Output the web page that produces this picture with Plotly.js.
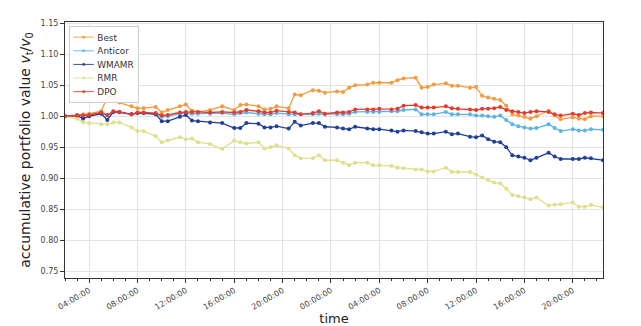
<!DOCTYPE html>
<html>
<head>
<meta charset="utf-8">
<script src="https://cdn.plot.ly/plotly-3.0.1.min.js"></script>
<style>
  html, body { margin: 0; padding: 0; background: #fff; }
  #chart { width: 641px; height: 326px; }
</style>
</head>
<body>
<div id="chart"></div>
<script>
// Data

// hours counted from 00:00 of the first day
const hours = [
  2, 3, 3.5, 4, 5, 5.5, 6, 6.5, 7.5, 8, 8.5, 9.5, 10, 10.5, 11.5, 12, 12.5, 13, 14, 15,
  16, 16.5, 17, 18, 18.5, 19, 19.5, 20.5, 21, 21.5, 22.5, 23, 23.5, 24.5, 25, 25.5, 26, 27, 27.5, 28,
  29, 29.5, 30, 31, 31.5, 32, 32.5, 33.5, 34, 34.5, 35.5, 36, 36.5, 37, 37.5, 38, 38.5, 39, 39.5, 40,
  40.5, 41, 42, 42.5, 43, 44, 44.5, 45, 45.5, 46.5,
];

const best = [
  1.000, 1.002, 1.003, 1.004, 1.008, 1.031, 1.033, 1.022, 1.016, 1.013, 1.013, 1.015, 1.006, 1.010, 1.016, 1.019, 1.009, 1.007, 1.010, 1.016,
  1.010, 1.018, 1.019, 1.016, 1.011, 1.012, 1.016, 1.013, 1.035, 1.034, 1.042, 1.041, 1.038, 1.040, 1.039, 1.046, 1.050, 1.051, 1.054, 1.054,
  1.054, 1.058, 1.061, 1.062, 1.046, 1.047, 1.051, 1.053, 1.049, 1.049, 1.046, 1.047, 1.033, 1.030, 1.028, 1.026, 1.017, 1.003, 1.001, 0.999,
  0.996, 1.000, 1.009, 1.001, 0.995, 0.998, 0.996, 0.995, 1.000, 1.000,
];

const anticor = [
  1.000, 1.001, 1.001, 1.002, 1.005, 1.001, 1.007, 1.006, 1.003, 1.005, 1.005, 1.004, 0.999, 1.000, 1.004, 1.005, 1.004, 1.004, 1.004, 1.005,
  1.003, 1.005, 1.006, 1.004, 1.003, 1.003, 1.005, 1.003, 1.003, 1.003, 1.003, 1.004, 1.003, 1.003, 1.003, 1.004, 1.007, 1.007, 1.007, 1.007,
  1.008, 1.008, 1.010, 1.011, 1.003, 1.003, 1.003, 1.007, 1.003, 1.003, 1.003, 1.001, 1.001, 1.000, 0.999, 1.001, 0.994, 0.987, 0.984, 0.982,
  0.980, 0.981, 0.987, 0.981, 0.976, 0.979, 0.977, 0.977, 0.979, 0.978,
];

const wmamr = [
  1.000, 1.001, 0.996, 1.000, 1.004, 0.994, 1.007, 1.007, 1.003, 1.005, 1.005, 1.003, 0.992, 0.992, 0.999, 1.002, 0.993, 0.992, 0.990, 0.989,
  0.981, 0.981, 0.989, 0.988, 0.982, 0.982, 0.984, 0.980, 0.991, 0.985, 0.989, 0.989, 0.983, 0.982, 0.980, 0.979, 0.983, 0.980, 0.979, 0.979,
  0.977, 0.975, 0.977, 0.976, 0.974, 0.972, 0.972, 0.975, 0.971, 0.972, 0.967, 0.966, 0.969, 0.963, 0.959, 0.958, 0.950, 0.937, 0.935, 0.933,
  0.929, 0.933, 0.941, 0.935, 0.931, 0.931, 0.931, 0.933, 0.932, 0.929,
];

const rmr = [
  1.000, 0.996, 0.990, 0.989, 0.987, 0.987, 0.990, 0.990, 0.982, 0.976, 0.976, 0.968, 0.958, 0.961, 0.966, 0.963, 0.964, 0.958, 0.955, 0.947,
  0.961, 0.958, 0.956, 0.958, 0.948, 0.950, 0.953, 0.948, 0.937, 0.932, 0.932, 0.937, 0.929, 0.929, 0.925, 0.921, 0.925, 0.925, 0.921, 0.921,
  0.920, 0.917, 0.916, 0.914, 0.914, 0.911, 0.911, 0.917, 0.910, 0.910, 0.910, 0.906, 0.901, 0.897, 0.893, 0.892, 0.883, 0.873, 0.871, 0.869,
  0.866, 0.869, 0.856, 0.857, 0.858, 0.861, 0.854, 0.854, 0.857, 0.853,
];

const dpo = [
  1.000, 1.001, 1.001, 1.002, 1.006, 1.002, 1.008, 1.007, 1.003, 1.006, 1.006, 1.005, 1.001, 1.002, 1.006, 1.007, 1.007, 1.007, 1.006, 1.007,
  1.006, 1.007, 1.010, 1.008, 1.006, 1.006, 1.009, 1.007, 1.006, 1.003, 1.005, 1.008, 1.004, 1.006, 1.006, 1.007, 1.011, 1.011, 1.011, 1.012,
  1.011, 1.012, 1.017, 1.018, 1.014, 1.014, 1.014, 1.016, 1.013, 1.012, 1.011, 1.010, 1.012, 1.012, 1.013, 1.015, 1.010, 1.008, 1.007, 1.005,
  1.007, 1.008, 1.007, 1.003, 1.001, 1.004, 1.002, 1.005, 1.006, 1.005,
];

const seriesNames = ["Best", "Anticor", "WMAMR", "RMR", "DPO"];
const seriesColors = ["#f39c3d", "#5ab4e6", "#213f99", "#dfdf8c", "#e8392e"];

// Utilities

const DAY0 = Date.UTC(2021, 0, 1);

const toTime = function (h) {
  const d = new Date(DAY0 + h * 3600000);
  return d.toISOString().slice(0, 19).replace("T", " ");
};

// Plotly's legend rows are at least 19px high, matplotlib's are ~13px,
// so the legend is drawn larger and shrunk afterwards
const LEGEND_SCALE = 0.684;

const shrinkLegend = function (gd) {
  const legend = gd.querySelector("g.legend");
  if (!legend) return;
  legend.setAttribute("transform", `translate(69,26) scale(${LEGEND_SCALE})`);
};

// Plotly Graph

const drawChart = function () {
  const x = hours.map(toTime);
  const allSeries = [best, anticor, wmamr, rmr, dpo];

  const data = allSeries.map((vals, i) => ({
    x: x,
    y: vals,
    name: seriesNames[i],
    type: "scatter",
    mode: "lines+markers",
    line: { color: seriesColors[i], width: 1.3 },
    marker: { color: seriesColors[i], size: 4 },
  }));

  const font = "DejaVu Sans, sans-serif";

  const layout = {
    width: 641,
    height: 326,
    paper_bgcolor: "#fff",
    plot_bgcolor: "#fff",
    font: { family: font, size: 9, color: "#444" },
    margin: { l: 65, r: 38, t: 22, b: 48 },
    showlegend: true,
    legend: {
      x: 0.008,
      y: 0.985,
      xanchor: "left",
      yanchor: "top",
      bgcolor: "rgba(255,255,255,0.9)",
      bordercolor: "#ccc",
      borderwidth: 1.4,
      font: { family: font, size: 13, color: "#333" },
      itemwidth: 30,
    },
    xaxis: {
      type: "date",
      range: [toTime(hours[0]), toTime(hours[hours.length - 1])],
      tick0: toTime(0),
      dtick: 4 * 3600000,
      tickformat: "%H:%M:%S",
      tickangle: -30,
      ticks: "outside",
      ticklen: 4,
      tickcolor: "#333",
      showgrid: true,
      gridcolor: "#e3e3e3",
      showline: true,
      linecolor: "#333",
      linewidth: 1,
      mirror: true,
      zeroline: false,
      tickfont: { family: font, size: 8, color: "#444" },
      minor: {
        dtick: 3600000,
        ticks: "outside",
        ticklen: 2,
        tickcolor: "#333",
        showgrid: false,
      },
      title: {
        text: "time",
        font: { family: font, size: 13, color: "#222" },
        standoff: 0,
      },
    },
    yaxis: {
      range: [0.739, 1.152],
      dtick: 0.05,
      tick0: 0.75,
      tickformat: ".2f",
      ticks: "outside",
      ticklen: 4,
      tickcolor: "#333",
      showgrid: true,
      gridcolor: "#e3e3e3",
      showline: true,
      linecolor: "#333",
      linewidth: 1,
      mirror: true,
      zeroline: false,
      tickfont: { family: font, size: 8, color: "#444" },
      title: {
        text: "accumulative portfolio value <i>v</i><sub>t</sub>/<i>v</i><sub>0</sub>",
        font: { family: font, size: 14, color: "#222" },
        standoff: 6,
      },
    },
  };

  Plotly.newPlot("chart", data, layout, {
    displayModeBar: false,
    staticPlot: true,
  }).then(shrinkLegend);
};

// Init

drawChart();
</script>
</body>
</html>
